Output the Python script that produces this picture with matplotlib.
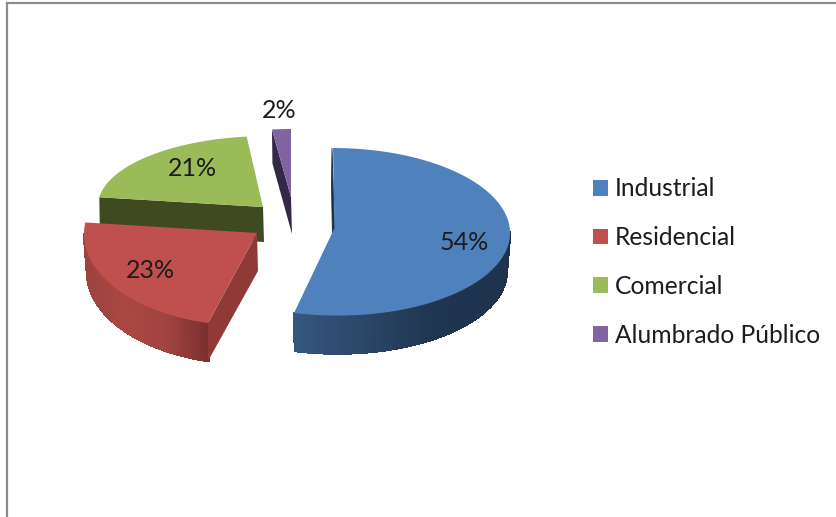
import numpy as np
import matplotlib
matplotlib.use("Agg")
import matplotlib.pyplot as plt
from matplotlib.patches import Polygon, Patch
from matplotlib.collections import PolyCollection
from matplotlib.colors import LinearSegmentedColormap, to_rgb

categories = ["Industrial", "Residencial", "Comercial", "Alumbrado Público"]
values = [54, 23, 21, 2]
colors = ["#4f81bd", "#c0504d", "#9bbb59", "#8064a2"]
face_dark = ["#1c2f46", "#8f3a37", "#404a20", "#332848"]
side_stops = [
    ["#35567e", "#2a4566", "#1f3550", "#1e334c"],
    ["#9c4340", "#ab4743", "#a04340", "#7a2f2e"],
    ["#404a20", "#404a20"],
    ["#332848", "#332848"],
]
# Projected pie geometry per slice (explosion and perspective), in pixels
geom = [
    dict(cx=335.3, cy=231.8, rx=174.7, ry=83.8, k=-2.3, ax=334.5, ay=228, depth=38),
    dict(cx=249, cy=234, rx=165, ry=92, k=0, ax=257, ay=233, depth=38),
    dict(cx=268, cy=206, rx=170, ry=70, k=0, ax=263, ay=207, depth=35),
    dict(cx=291, cy=197, rx=152, ry=68, k=0, ax=291, ay=197, depth=37),
]
label_pos = [(464, 242.5), (150, 271), (192.5, 169), (279, 111)]

W, H = 836, 517
fig = plt.figure(figsize=(W / 100, H / 100), dpi=100)
ax = fig.add_axes([0, 0, 1, 1])
ax.set_xlim(0, W)
ax.set_ylim(H, 0)
ax.axis("off")
FONT = "Lato"
TXT = "#1c1c1c"

# frame (only the top and left edges are visible in the reference)
ax.plot([7, 7, W + 5], [H + 5, 3, 3], color="#8c8c8c", lw=1.6, solid_joinstyle="miter", zorder=1)


def rim(g, th, shrink=1.0):
    s, c = np.sin(th), np.cos(th)
    return g["cx"] + g["rx"] * shrink * s + g["k"] * c, g["cy"] - g["ry"] * c


fr = np.cumsum([0] + values) / sum(values) * 2 * np.pi
order = [2, 3, 1, 0]
z = 2
for i in order:
    g = geom[i]
    t0, t1 = fr[i], fr[i + 1]
    d = g["depth"]
    # outer wall: visible on the near half of the pie only
    lo, hi = max(t0, np.pi / 2), min(t1, 3 * np.pi / 2)
    if hi > lo and i < 2:
        ts = np.linspace(lo, hi, 90)
        xt, yt = rim(g, ts)
        xb, yb = rim(g, ts, 0.982)
        yb = yb + d
        quads = [[(xt[j], yt[j]), (xt[j + 1], yt[j + 1]), (xb[j + 1], yb[j + 1]), (xb[j], yb[j])]
                 for j in range(len(ts) - 1)]
        cmap = LinearSegmentedColormap.from_list("s", [to_rgb(c) for c in side_stops[i]])
        xm = (xt[:-1] + xt[1:]) / 2
        tt = (xm - xm.min()) / (xm.max() - xm.min())
        cols = cmap(tt)
        ax.add_collection(PolyCollection(quads, facecolors=cols, edgecolors=cols, linewidths=1.0,
                                         antialiaseds=False, zorder=z))
    z += 1
    # cut faces
    if i == 0:
        x0, y0 = rim(g, t0)
        ax.add_patch(Polygon([(x0 - 1, y0), (x0 - 1.5, y0 + d), (g["ax"] - 1.5, g["ay"] + d), (g["ax"], g["ay"])],
                             closed=True, fc=face_dark[i], ec=face_dark[i], lw=0.6, zorder=z))
    elif i == 1:
        x0, y0 = rim(g, t0)
        ax.add_patch(Polygon([(x0, y0), (x0, y0 + d), (g["ax"] + 1, g["ay"] + d), (g["ax"], g["ay"])],
                             closed=True, fc=face_dark[i], ec="none", zorder=z))
    else:
        x0, y0 = rim(g, t0)
        ax.add_patch(Polygon([(x0, y0), (x0 + 0.5, y0 + d - (0 if i == 2 else 3)), (g["ax"] + 1, g["ay"] + d), (g["ax"], g["ay"])],
                             closed=True, fc=face_dark[i], ec="none", zorder=z))
    z += 1
    # top surface
    ts = np.linspace(t0, t1, 200)
    xt, yt = rim(g, ts)
    pts = np.column_stack([np.r_[g["ax"], xt], np.r_[g["ay"], yt]])
    ax.add_patch(Polygon(pts, closed=True, fc=colors[i], ec="none", zorder=z))
    z += 1

for v, (x, y) in zip(values, label_pos):
    ax.text(x, y, f"{v}%", ha="center", va="center", fontsize=18, family=FONT, color=TXT, zorder=50)

handles = [Patch(facecolor=c, edgecolor="none", label=n) for c, n in zip(colors, categories)]
leg = ax.legend(handles=handles, loc="center left", bbox_to_anchor=(593, 262), bbox_transform=ax.transData,
                frameon=False, prop={"family": FONT, "size": 17.7}, labelcolor=TXT,
                handlelength=0.61, handleheight=0.61, handletextpad=0.28, labelspacing=1.05,
                borderpad=0, borderaxespad=0)
fig.savefig("out.png", dpi=100, facecolor="white")
